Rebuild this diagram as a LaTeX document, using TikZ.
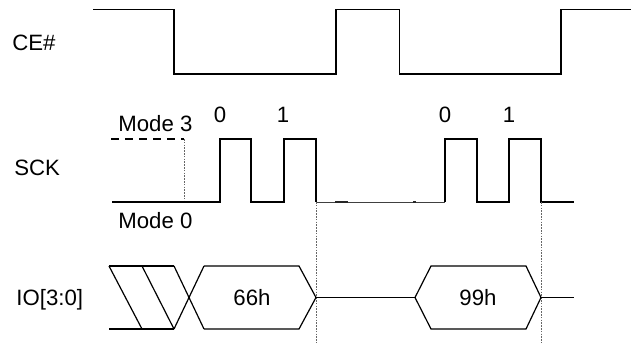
\documentclass[tikz,border=0pt]{standalone}
\usepackage{fontspec}
\setmainfont{Liberation Sans}
\begin{document}
\begin{tikzpicture}[x=0.5pt,y=-0.5pt,
  wave/.style={line width=0.6pt,line join=miter},
  thinwave/.style={line width=0.5pt,draw=black!75},
  modethree/.style={line width=0.6pt,dash pattern=on 4pt off 3pt},
  guide/.style={line width=0.4pt,draw=black!60,dash pattern=on 0.8pt off 0.6pt},
  lbl/.style={inner sep=0pt,font=\fontsize{11.1}{13}\selectfont}]
\useasboundingbox (0,0) rectangle (631,343);
% labels
\node[lbl,anchor=base west] (ce) at (12,50.5) {CE\#};
\node[lbl,anchor=base west] (sck) at (14,175) {SCK};
\node[lbl,anchor=base west] (io) at (16,305) {IO[3:0]};
\node[lbl,anchor=base west] (m3) at (118,131.5) {Mode 3};
\node[lbl,anchor=base west] (m0) at (118,228) {Mode 0};
\node[lbl,anchor=base] (b0a) at (220,122.5) {0};
\node[lbl,anchor=base] (b1a) at (283,122.5) {1};
\node[lbl,anchor=base] (b0b) at (445,122.5) {0};
\node[lbl,anchor=base] (b1b) at (509,122.5) {1};
\node[lbl,anchor=base] (d66) at (252,305) {66h};
\node[lbl,anchor=base] (d99) at (478,305) {99h};
% CE#
\draw[wave] (93,9.5) -- (174,9.5) -- (174,74) -- (336,74) -- (336,9.5)
  -- (399.5,9.5) -- (399.5,74) -- (561,74) -- (561,9.5) -- (631,9.5);
% SCK
\coordinate (e1) at (316,202);
\coordinate (e2) at (541,202);
\draw[modethree] (111,139) -- (184,139);
\draw[guide] (184,139) -- (184,202);
\draw[wave] (112,202) -- (220,202) -- (220,139) -- (251,139) -- (251,202)
  -- (284,202) -- (284,139) -- (316,139) -- (e1);
\draw[thinwave] (e1) -- (445,202);
\draw[line width=0.6pt,draw=black!85] (335,202) -- (348,202) (413,202) -- (416,202);
\draw[wave] (445,202) -- (445,139) -- (477,139) -- (477,202) -- (509,202)
  -- (509,139) -- (541,139) -- (e2) -- (574,202);
% guides
\draw[guide] (e1) -- (316,343);
\draw[guide] (e2) -- (541,343);
% IO
\draw[wave] (109,266) -- (174,266) (109,329) -- (174,329);
\draw[wave] (109,266) -- (142,329) (142,266) -- (174,329);
\draw[wave] (174,266) -- (204,329) (174,329) -- (204,266);
\draw[wave] (204,266) -- (299,266) -- (316,297.5) -- (299,329) -- (204,329);
\draw[wave] (316,297.5) -- (415,297.5);
\draw[wave] (415,297.5) -- (431,266) -- (526,266) -- (541,297.5) -- (526,329) -- (431,329) -- cycle;
\draw[wave] (541,297.5) -- (574,297.5);
\end{tikzpicture}
\end{document}
